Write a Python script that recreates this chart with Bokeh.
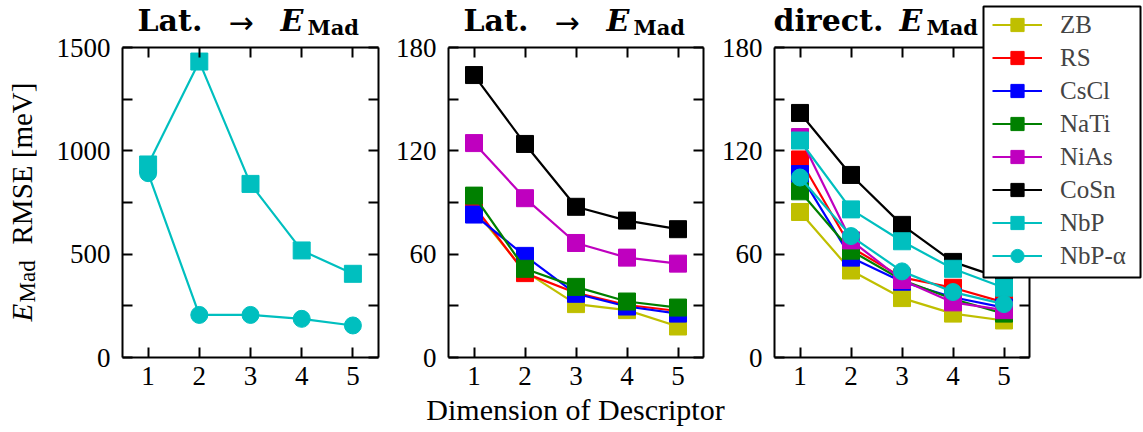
from bokeh.plotting import figure
from bokeh.models import (Range1d, FixedTicker, LinearAxis, Label, Legend,
                          LegendItem, BoxAnnotation)
from bokeh.embed import file_html
from bokeh.resources import INLINE

# ---- data -------------------------------------------------------------
dims = [1, 2, 3, 4, 5]

# panel 1: lattice -> E_Mad, NbP only (meV)
p1_nbp = [934, 1432, 840, 518, 405]
p1_nbp_alpha = [892, 206, 206, 187, 155]

# panel 2: lattice -> E_Mad (meV)
p2_zb = [86, 50, 31, 27.5, 18]
p2_rs = [88, 49, 37.5, 30.5, 27]
p2_cscl = [83, 59, 37, 29.6, 25.5]
p2_nati = [94, 51.5, 41, 32.5, 29]
p2_nias = [124.5, 92.5, 66.5, 58, 54.5]
p2_cosn = [164, 124, 87.5, 79.5, 74.5]

# panel 3: direct E_Mad (meV)
p3_zb = [84.5, 50.5, 34.5, 25.5, 21.5]
p3_rs = [115, 64, 46.5, 40.5, 32]
p3_cscl = [106.5, 58, 44, 35, 29]
p3_nati = [96.5, 62, 45, 34, 25.5]
p3_nias = [128, 68, 45, 32, 27.5]
p3_cosn = [142, 106, 77, 55.5, 45.5]
p3_nbp = [126, 86, 67.5, 51.5, 40.5]
p3_nbp_alpha = [104.5, 70.5, 50, 38, 31]

x_ticks = [1, 2, 3, 4, 5]
y1_ticks, y1_minor = [0, 500, 1000, 1500], [250, 750, 1250]
y2_ticks, y2_minor = [0, 60, 120, 180], [30, 90, 150]

colors = {
    "ZB": "#bfbf00", "RS": "#ff0000", "CsCl": "#0000ff", "NaTi": "#008000",
    "NiAs": "#bf00bf", "CoSn": "#000000", "NbP": "#00bfbf", "NbP-α": "#00bfbf",
}

# ---- page geometry (pixels) --------------------------------------------
W, H = 1143, 432
BOX_TOP, BOX_BOTTOM = 47, 357
SERIF = "Liberation Serif"
BOLD_SERIF = "DejaVu Serif"
TICK_FS = "27px"
XMIN, XMAX = 0.5, 5.5

# one canvas-sized frame; every panel gets its own pair of ranges
p = figure(frame_width=W, frame_height=H, min_border=0,
           x_range=Range1d(0, W), y_range=Range1d(0, H),
           x_axis_location=None, y_axis_location=None,
           output_backend="svg", toolbar_location=None)
p.xgrid.visible = False
p.ygrid.visible = False
p.outline_line_color = None
p.background_fill_color = "white"
p.border_fill_color = "white"


def style_axis(ax, ticks, minor=None, labels=True):
    ax.ticker = FixedTicker(ticks=ticks, minor_ticks=minor or [])
    ax.axis_line_width = 2
    ax.axis_line_color = "black"
    ax.major_tick_in = 10
    ax.major_tick_out = 0
    ax.major_tick_line_width = 2
    ax.major_tick_line_color = "black"
    ax.minor_tick_in = 10
    ax.minor_tick_out = 0
    ax.minor_tick_line_width = 2
    ax.minor_tick_line_color = "black" if minor else None
    ax.major_label_text_font = SERIF
    ax.major_label_text_font_size = TICK_FS
    ax.major_label_text_color = "black"
    if not labels:
        ax.major_label_overrides = {t: "" for t in ticks}


def add_panel(key, left_px, right_px, ymax, yt, ym):
    """Map data box [0.5, 5.5] x [0, ymax] onto the given pixel box."""
    kx = (XMAX - XMIN) / (right_px - left_px)
    ky = ymax / (BOX_BOTTOM - BOX_TOP)
    xn, yn = "x" + key, "y" + key
    p.extra_x_ranges[xn] = Range1d(XMIN - left_px * kx, XMAX + (W - right_px) * kx)
    p.extra_y_ranges[yn] = Range1d(-(H - BOX_BOTTOM) * ky, ymax + BOX_TOP * ky)

    specs = [("below", 0, x_ticks, None, True, (XMIN, XMAX)),
             ("above", ymax, x_ticks, None, False, (XMIN, XMAX)),
             ("left", XMIN, yt, ym, True, (0, ymax)),
             ("right", XMAX, yt, ym, False, (0, ymax))]
    for side, loc, ticks, minor, labels, bounds in specs:
        ax = LinearAxis(x_range_name=xn, y_range_name=yn,
                        fixed_location=loc, bounds=bounds)
        style_axis(ax, ticks, minor, labels)
        ax.major_label_standoff = 9 if side == "below" else 12
        p.add_layout(ax, side)
    return xn, yn


def draw(ranges, name, ys, marker="square"):
    xn, yn = ranges
    c = colors[name]
    ln = p.line(dims, ys, line_color=c, line_width=2.2,
                x_range_name=xn, y_range_name=yn)
    sc = p.scatter(dims, ys, marker=marker, size=17, fill_color=c,
                   line_color=c, line_width=1,
                   x_range_name=xn, y_range_name=yn)
    return [ln, sc]


def text(cx, cy, s, size, style="normal", angle=0.0, align="left",
         font=SERIF):
    """Text whose baseline passes through canvas pixel (cx, cy)."""
    shift = 0.34 * size
    if angle:
        x, y = cx - shift, H - cy
    else:
        x, y = cx, H - (cy - shift)
    p.add_layout(Label(x=x, y=y, x_units="screen", y_units="screen",
                       text=s, text_font=font, text_font_size=f"{size}px",
                       text_font_style=style, text_color="black",
                       text_align=align, text_baseline="middle",
                       angle=angle))


def panel_title(x0, head, e_x, arrow_x=None):
    text(x0, 30, head, 30, "bold", font=BOLD_SERIF)
    if arrow_x is not None:
        text(arrow_x, 32, "→", 30, "normal", font="DejaVu Sans")
    text(e_x, 30, "E", 30, "bold italic", font=BOLD_SERIF)
    text(e_x + 27, 34, "Mad", 21, "bold", font=BOLD_SERIF)


# ---- panel 1 ----------------------------------------------------------
r1 = add_panel("1", 122, 378, 1500, y1_ticks, y1_minor)
draw(r1, "NbP", p1_nbp)
draw(r1, "NbP-α", p1_nbp_alpha, marker="circle")
panel_title(137, "Lat.", 280, arrow_x=228)

# ---- panel 2 ----------------------------------------------------------
r2 = add_panel("2", 448, 703, 180, y2_ticks, y2_minor)
for nm, ys in (("ZB", p2_zb), ("RS", p2_rs), ("CsCl", p2_cscl),
               ("NaTi", p2_nati), ("NiAs", p2_nias), ("CoSn", p2_cosn)):
    draw(r2, nm, ys)
panel_title(463, "Lat.", 606, arrow_x=554)

# ---- panel 3 ----------------------------------------------------------
r3 = add_panel("3", 774, 1029, 180, y2_ticks, y2_minor)
items = []
for nm, ys, mk in (("ZB", p3_zb, "square"), ("RS", p3_rs, "square"),
                   ("CsCl", p3_cscl, "square"), ("NaTi", p3_nati, "square"),
                   ("NiAs", p3_nias, "square"), ("CoSn", p3_cosn, "square"),
                   ("NbP", p3_nbp, "square"), ("NbP-α", p3_nbp_alpha, "circle")):
    items.append(LegendItem(label=nm, renderers=draw(r3, nm, ys, mk)))
panel_title(773, "direct.", 899)

# ---- axis titles ------------------------------------------------------
text(31, 321, "E", 29, "italic", angle=1.5708)
text(35, 302, "Mad", 23, "normal", angle=1.5708)
text(31, 244, "RMSE [meV]", 29, "normal", angle=1.5708)
text(575, 419, "Dimension of Descriptor", 30, "normal", align="center")

# ---- legend -----------------------------------------------------------
p.add_layout(BoxAnnotation(left=983, right=1140, top=H - 6, bottom=H - 277,
                           left_units="screen", right_units="screen",
                           top_units="screen", bottom_units="screen",
                           fill_color="white", fill_alpha=1.0,
                           line_color="black", line_width=2, line_alpha=1.0))
legend = Legend(items=items, location=(992, H - 8 - 8 * 33),
                glyph_width=50, glyph_height=33, label_height=33,
                spacing=0, padding=0, margin=0, label_standoff=18,
                label_text_font=SERIF, label_text_font_size="25px",
                background_fill_alpha=0, border_line_color=None)
p.add_layout(legend)

open("out.html", "w").write(file_html(p, INLINE))
